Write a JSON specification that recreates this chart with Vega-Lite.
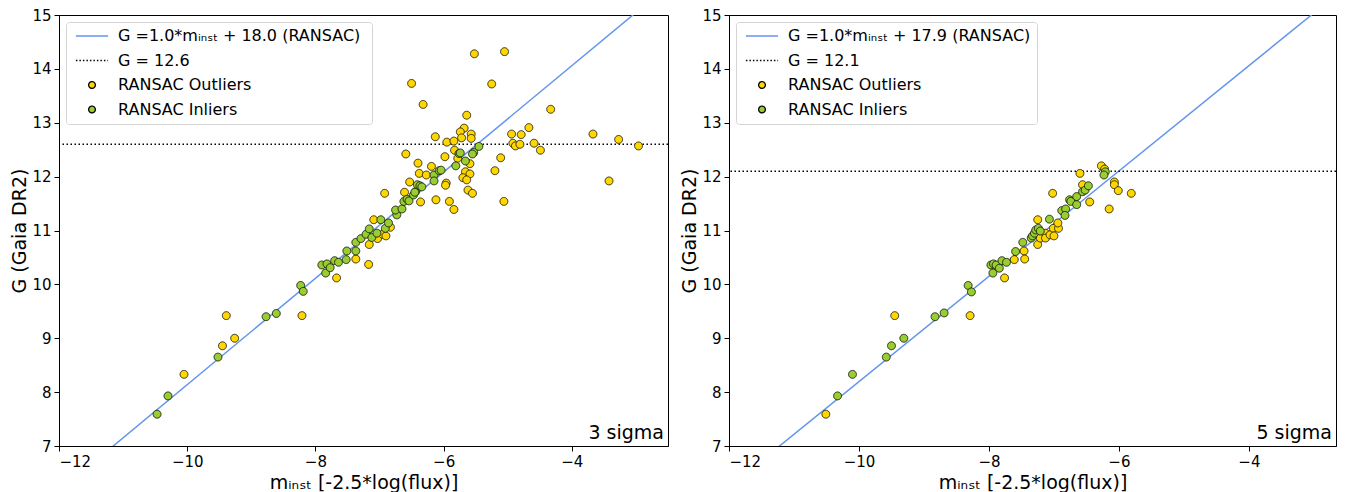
{
  "$schema": "https://vega.github.io/schema/vega-lite/v6.json",
  "padding": {"left": 10, "top": 7, "right": 5, "bottom": 0},
  "spacing": 10,
  "config": {
    "font": "DejaVu Sans",
    "view": {"stroke": "black", "strokeWidth": 1},
    "axis": {"grid": false, "domainColor": "black", "tickColor": "black", "labelColor": "black", "titleColor": "black", "labelFontSize": 15, "titleFontSize": 19, "titleFontWeight": "normal", "tickSize": 5, "labelPadding": 3, "titlePadding": 2, "labelFont": "DejaVu Sans", "titleFont": "DejaVu Sans"},
    "axisX": {"titlePadding": 4},
    "legend": {"title": null, "orient": "top-left", "offset": 7, "fillColor": "white", "strokeColor": "#d5d5d5", "cornerRadius": 3, "padding": 6, "labelFontSize": 16, "labelColor": "black", "labelFont": "DejaVu Sans", "labelLimit": 500, "symbolSize": 45, "symbolStrokeWidth": 1.3, "rowPadding": 8.5, "symbolOffset": 12, "labelOffset": 18}
  },
  "datasets": {
    "leftfit": [{"x": -12, "y": 6.165}, {"x": -2.5, "y": 15.54}],
    "rightfit": [{"x": -12, "y": 6.24}, {"x": -2.66, "y": 15.37}],
    "left": [
      {"x": -10.05, "y": 8.33, "cls": "RANSAC Outliers"},
      {"x": -9.45, "y": 8.86, "cls": "RANSAC Outliers"},
      {"x": -9.26, "y": 9.00, "cls": "RANSAC Outliers"},
      {"x": -9.39, "y": 9.42, "cls": "RANSAC Outliers"},
      {"x": -8.21, "y": 9.42, "cls": "RANSAC Outliers"},
      {"x": -7.67, "y": 10.12, "cls": "RANSAC Outliers"},
      {"x": -7.37, "y": 10.47, "cls": "RANSAC Outliers"},
      {"x": -7.17, "y": 10.37, "cls": "RANSAC Outliers"},
      {"x": -7.16, "y": 10.74, "cls": "RANSAC Outliers"},
      {"x": -7.09, "y": 11.20, "cls": "RANSAC Outliers"},
      {"x": -7.03, "y": 10.85, "cls": "RANSAC Outliers"},
      {"x": -6.95, "y": 10.93, "cls": "RANSAC Outliers"},
      {"x": -6.90, "y": 10.90, "cls": "RANSAC Outliers"},
      {"x": -6.83, "y": 11.06, "cls": "RANSAC Outliers"},
      {"x": -6.92, "y": 11.69, "cls": "RANSAC Outliers"},
      {"x": -6.61, "y": 11.71, "cls": "RANSAC Outliers"},
      {"x": -6.36, "y": 11.53, "cls": "RANSAC Outliers"},
      {"x": -6.53, "y": 11.90, "cls": "RANSAC Outliers"},
      {"x": -6.59, "y": 12.42, "cls": "RANSAC Outliers"},
      {"x": -6.40, "y": 12.25, "cls": "RANSAC Outliers"},
      {"x": -6.19, "y": 12.19, "cls": "RANSAC Outliers"},
      {"x": -6.38, "y": 12.06, "cls": "RANSAC Outliers"},
      {"x": -6.27, "y": 12.03, "cls": "RANSAC Outliers"},
      {"x": -6.12, "y": 11.57, "cls": "RANSAC Outliers"},
      {"x": -5.91, "y": 11.54, "cls": "RANSAC Outliers"},
      {"x": -5.84, "y": 11.39, "cls": "RANSAC Outliers"},
      {"x": -5.96, "y": 11.88, "cls": "RANSAC Outliers"},
      {"x": -5.97, "y": 11.84, "cls": "RANSAC Outliers"},
      {"x": -6.13, "y": 12.74, "cls": "RANSAC Outliers"},
      {"x": -5.52, "y": 14.28, "cls": "RANSAC Outliers"},
      {"x": -5.05, "y": 14.32, "cls": "RANSAC Outliers"},
      {"x": -6.50, "y": 13.73, "cls": "RANSAC Outliers"},
      {"x": -5.25, "y": 13.72, "cls": "RANSAC Outliers"},
      {"x": -6.32, "y": 13.34, "cls": "RANSAC Outliers"},
      {"x": -4.33, "y": 13.25, "cls": "RANSAC Outliers"},
      {"x": -5.64, "y": 13.14, "cls": "RANSAC Outliers"},
      {"x": -5.68, "y": 12.90, "cls": "RANSAC Outliers"},
      {"x": -5.74, "y": 12.83, "cls": "RANSAC Outliers"},
      {"x": -5.57, "y": 12.79, "cls": "RANSAC Outliers"},
      {"x": -5.57, "y": 12.71, "cls": "RANSAC Outliers"},
      {"x": -5.72, "y": 12.72, "cls": "RANSAC Outliers"},
      {"x": -5.95, "y": 12.64, "cls": "RANSAC Outliers"},
      {"x": -5.84, "y": 12.66, "cls": "RANSAC Outliers"},
      {"x": -4.94, "y": 12.79, "cls": "RANSAC Outliers"},
      {"x": -4.79, "y": 12.78, "cls": "RANSAC Outliers"},
      {"x": -4.67, "y": 12.91, "cls": "RANSAC Outliers"},
      {"x": -4.92, "y": 12.62, "cls": "RANSAC Outliers"},
      {"x": -4.88, "y": 12.57, "cls": "RANSAC Outliers"},
      {"x": -4.81, "y": 12.60, "cls": "RANSAC Outliers"},
      {"x": -4.59, "y": 12.62, "cls": "RANSAC Outliers"},
      {"x": -4.49, "y": 12.49, "cls": "RANSAC Outliers"},
      {"x": -5.83, "y": 12.49, "cls": "RANSAC Outliers"},
      {"x": -5.98, "y": 12.37, "cls": "RANSAC Outliers"},
      {"x": -5.78, "y": 12.34, "cls": "RANSAC Outliers"},
      {"x": -5.59, "y": 12.24, "cls": "RANSAC Outliers"},
      {"x": -5.11, "y": 12.35, "cls": "RANSAC Outliers"},
      {"x": -5.20, "y": 12.11, "cls": "RANSAC Outliers"},
      {"x": -5.66, "y": 12.09, "cls": "RANSAC Outliers"},
      {"x": -5.59, "y": 12.05, "cls": "RANSAC Outliers"},
      {"x": -5.70, "y": 11.98, "cls": "RANSAC Outliers"},
      {"x": -5.64, "y": 11.94, "cls": "RANSAC Outliers"},
      {"x": -5.62, "y": 11.75, "cls": "RANSAC Outliers"},
      {"x": -5.55, "y": 11.69, "cls": "RANSAC Outliers"},
      {"x": -5.06, "y": 11.54, "cls": "RANSAC Outliers"},
      {"x": -3.67, "y": 12.79, "cls": "RANSAC Outliers"},
      {"x": -3.27, "y": 12.69, "cls": "RANSAC Outliers"},
      {"x": -2.96, "y": 12.57, "cls": "RANSAC Outliers"},
      {"x": -3.42, "y": 11.92, "cls": "RANSAC Outliers"},
      {"x": -10.47, "y": 7.59, "cls": "RANSAC Inliers"},
      {"x": -10.30, "y": 7.93, "cls": "RANSAC Inliers"},
      {"x": -9.52, "y": 8.65, "cls": "RANSAC Inliers"},
      {"x": -8.77, "y": 9.40, "cls": "RANSAC Inliers"},
      {"x": -8.61, "y": 9.46, "cls": "RANSAC Inliers"},
      {"x": -8.23, "y": 9.98, "cls": "RANSAC Inliers"},
      {"x": -8.19, "y": 9.87, "cls": "RANSAC Inliers"},
      {"x": -7.90, "y": 10.36, "cls": "RANSAC Inliers"},
      {"x": -7.84, "y": 10.21, "cls": "RANSAC Inliers"},
      {"x": -7.82, "y": 10.38, "cls": "RANSAC Inliers"},
      {"x": -7.77, "y": 10.31, "cls": "RANSAC Inliers"},
      {"x": -7.70, "y": 10.44, "cls": "RANSAC Inliers"},
      {"x": -7.64, "y": 10.41, "cls": "RANSAC Inliers"},
      {"x": -7.52, "y": 10.46, "cls": "RANSAC Inliers"},
      {"x": -7.51, "y": 10.62, "cls": "RANSAC Inliers"},
      {"x": -7.37, "y": 10.62, "cls": "RANSAC Inliers"},
      {"x": -7.37, "y": 10.78, "cls": "RANSAC Inliers"},
      {"x": -7.29, "y": 10.85, "cls": "RANSAC Inliers"},
      {"x": -7.21, "y": 10.93, "cls": "RANSAC Inliers"},
      {"x": -7.16, "y": 11.03, "cls": "RANSAC Inliers"},
      {"x": -7.12, "y": 10.87, "cls": "RANSAC Inliers"},
      {"x": -7.04, "y": 10.95, "cls": "RANSAC Inliers"},
      {"x": -6.98, "y": 11.20, "cls": "RANSAC Inliers"},
      {"x": -6.91, "y": 11.04, "cls": "RANSAC Inliers"},
      {"x": -6.86, "y": 11.14, "cls": "RANSAC Inliers"},
      {"x": -6.73, "y": 11.29, "cls": "RANSAC Inliers"},
      {"x": -6.75, "y": 11.38, "cls": "RANSAC Inliers"},
      {"x": -6.65, "y": 11.40, "cls": "RANSAC Inliers"},
      {"x": -6.62, "y": 11.54, "cls": "RANSAC Inliers"},
      {"x": -6.57, "y": 11.58, "cls": "RANSAC Inliers"},
      {"x": -6.54, "y": 11.55, "cls": "RANSAC Inliers"},
      {"x": -6.47, "y": 11.66, "cls": "RANSAC Inliers"},
      {"x": -6.44, "y": 11.72, "cls": "RANSAC Inliers"},
      {"x": -6.45, "y": 11.71, "cls": "RANSAC Inliers"},
      {"x": -6.41, "y": 11.85, "cls": "RANSAC Inliers"},
      {"x": -6.37, "y": 11.83, "cls": "RANSAC Inliers"},
      {"x": -6.34, "y": 11.81, "cls": "RANSAC Inliers"},
      {"x": -6.15, "y": 12.03, "cls": "RANSAC Inliers"},
      {"x": -6.15, "y": 11.92, "cls": "RANSAC Inliers"},
      {"x": -6.07, "y": 12.11, "cls": "RANSAC Inliers"},
      {"x": -6.04, "y": 12.12, "cls": "RANSAC Inliers"},
      {"x": -5.81, "y": 12.20, "cls": "RANSAC Inliers"},
      {"x": -5.76, "y": 12.43, "cls": "RANSAC Inliers"},
      {"x": -5.74, "y": 12.44, "cls": "RANSAC Inliers"},
      {"x": -5.66, "y": 12.29, "cls": "RANSAC Inliers"},
      {"x": -5.53, "y": 12.45, "cls": "RANSAC Inliers"},
      {"x": -5.55, "y": 12.42, "cls": "RANSAC Inliers"},
      {"x": -5.45, "y": 12.56, "cls": "RANSAC Inliers"}
    ],
    "right": [
      {"x": -10.51, "y": 7.59, "cls": "RANSAC Outliers"},
      {"x": -9.45, "y": 9.42, "cls": "RANSAC Outliers"},
      {"x": -8.29, "y": 9.42, "cls": "RANSAC Outliers"},
      {"x": -7.76, "y": 10.12, "cls": "RANSAC Outliers"},
      {"x": -7.61, "y": 10.46, "cls": "RANSAC Outliers"},
      {"x": -7.46, "y": 10.62, "cls": "RANSAC Outliers"},
      {"x": -7.45, "y": 10.47, "cls": "RANSAC Outliers"},
      {"x": -7.25, "y": 10.74, "cls": "RANSAC Outliers"},
      {"x": -7.25, "y": 11.20, "cls": "RANSAC Outliers"},
      {"x": -7.21, "y": 10.86, "cls": "RANSAC Outliers"},
      {"x": -7.13, "y": 10.95, "cls": "RANSAC Outliers"},
      {"x": -7.13, "y": 10.86, "cls": "RANSAC Outliers"},
      {"x": -7.06, "y": 10.92, "cls": "RANSAC Outliers"},
      {"x": -7.01, "y": 11.04, "cls": "RANSAC Outliers"},
      {"x": -7.00, "y": 10.90, "cls": "RANSAC Outliers"},
      {"x": -6.93, "y": 11.04, "cls": "RANSAC Outliers"},
      {"x": -6.94, "y": 11.14, "cls": "RANSAC Outliers"},
      {"x": -7.02, "y": 11.69, "cls": "RANSAC Outliers"},
      {"x": -6.56, "y": 11.85, "cls": "RANSAC Outliers"},
      {"x": -6.45, "y": 11.53, "cls": "RANSAC Outliers"},
      {"x": -6.60, "y": 12.06, "cls": "RANSAC Outliers"},
      {"x": -6.27, "y": 12.20, "cls": "RANSAC Outliers"},
      {"x": -6.22, "y": 12.14, "cls": "RANSAC Outliers"},
      {"x": -6.07, "y": 11.90, "cls": "RANSAC Outliers"},
      {"x": -6.07, "y": 11.85, "cls": "RANSAC Outliers"},
      {"x": -6.01, "y": 11.74, "cls": "RANSAC Outliers"},
      {"x": -5.81, "y": 11.69, "cls": "RANSAC Outliers"},
      {"x": -6.15, "y": 11.40, "cls": "RANSAC Outliers"},
      {"x": -10.33, "y": 7.93, "cls": "RANSAC Inliers"},
      {"x": -10.10, "y": 8.33, "cls": "RANSAC Inliers"},
      {"x": -9.58, "y": 8.65, "cls": "RANSAC Inliers"},
      {"x": -9.50, "y": 8.86, "cls": "RANSAC Inliers"},
      {"x": -9.31, "y": 9.00, "cls": "RANSAC Inliers"},
      {"x": -8.83, "y": 9.40, "cls": "RANSAC Inliers"},
      {"x": -8.69, "y": 9.47, "cls": "RANSAC Inliers"},
      {"x": -8.32, "y": 9.98, "cls": "RANSAC Inliers"},
      {"x": -8.27, "y": 9.86, "cls": "RANSAC Inliers"},
      {"x": -7.97, "y": 10.36, "cls": "RANSAC Inliers"},
      {"x": -7.93, "y": 10.38, "cls": "RANSAC Inliers"},
      {"x": -7.89, "y": 10.36, "cls": "RANSAC Inliers"},
      {"x": -7.94, "y": 10.21, "cls": "RANSAC Inliers"},
      {"x": -7.84, "y": 10.30, "cls": "RANSAC Inliers"},
      {"x": -7.80, "y": 10.44, "cls": "RANSAC Inliers"},
      {"x": -7.73, "y": 10.41, "cls": "RANSAC Inliers"},
      {"x": -7.59, "y": 10.61, "cls": "RANSAC Inliers"},
      {"x": -7.48, "y": 10.78, "cls": "RANSAC Inliers"},
      {"x": -7.35, "y": 10.86, "cls": "RANSAC Inliers"},
      {"x": -7.33, "y": 10.90, "cls": "RANSAC Inliers"},
      {"x": -7.30, "y": 10.95, "cls": "RANSAC Inliers"},
      {"x": -7.28, "y": 11.01, "cls": "RANSAC Inliers"},
      {"x": -7.24, "y": 11.04, "cls": "RANSAC Inliers"},
      {"x": -7.21, "y": 10.99, "cls": "RANSAC Inliers"},
      {"x": -7.07, "y": 11.21, "cls": "RANSAC Inliers"},
      {"x": -6.88, "y": 11.37, "cls": "RANSAC Inliers"},
      {"x": -6.82, "y": 11.40, "cls": "RANSAC Inliers"},
      {"x": -6.83, "y": 11.28, "cls": "RANSAC Inliers"},
      {"x": -6.76, "y": 11.57, "cls": "RANSAC Inliers"},
      {"x": -6.74, "y": 11.54, "cls": "RANSAC Inliers"},
      {"x": -6.65, "y": 11.63, "cls": "RANSAC Inliers"},
      {"x": -6.65, "y": 11.48, "cls": "RANSAC Inliers"},
      {"x": -6.56, "y": 11.72, "cls": "RANSAC Inliers"},
      {"x": -6.52, "y": 11.75, "cls": "RANSAC Inliers"},
      {"x": -6.47, "y": 11.83, "cls": "RANSAC Inliers"},
      {"x": -6.21, "y": 12.09, "cls": "RANSAC Inliers"},
      {"x": -6.23, "y": 12.03, "cls": "RANSAC Inliers"}
    ]
  },
  "hconcat": [
    {
      "width": 609,
      "height": 431,
      "layer": [
        {
          "data": {"name": "leftfit"},
          "mark": {"type": "line", "color": "#6495ED", "strokeWidth": 1.5, "clip": true},
          "encoding": {
            "x": {"field": "x", "type": "quantitative", "scale": {"domain": [-12, -2.5], "nice": false, "zero": false}, "axis": {"values": [-12, -10, -8, -6, -4], "format": "d"}, "title": "mᵢₙₛₜ [-2.5*log(flux)]"},
            "y": {"field": "y", "type": "quantitative", "scale": {"domain": [7, 15], "nice": false, "zero": false}, "axis": {"values": [7, 8, 9, 10, 11, 12, 13, 14, 15], "format": "d"}, "title": "G (Gaia DR2)"}
          }
        },
        {
          "data": {"values": [{"g": 12.6}]},
          "mark": {"type": "rule", "color": "black", "strokeDash": [1.5, 2.5], "strokeWidth": 1.5},
          "encoding": {"y": {"field": "g", "type": "quantitative"}}
        },
        {
          "data": {"name": "left"},
          "mark": {"type": "point", "filled": true, "size": 62, "strokeWidth": 0.8, "opacity": 1},
          "encoding": {
            "x": {"field": "x", "type": "quantitative"},
            "y": {"field": "y", "type": "quantitative"},
            "fill": {"field": "cls", "type": "nominal", "scale": {"domain": ["G  =1.0*mᵢₙₛₜ + 18.0 (RANSAC)", "G  = 12.6", "RANSAC Outliers", "RANSAC Inliers"], "range": ["#6495ED", "black", "#FFD700", "#9ACD32"]}},
            "stroke": {"field": "cls", "type": "nominal", "scale": {"domain": ["G  =1.0*mᵢₙₛₜ + 18.0 (RANSAC)", "G  = 12.6", "RANSAC Outliers", "RANSAC Inliers"], "range": ["#6495ED", "black", "black", "black"]}},
            "shape": {"field": "cls", "type": "nominal", "scale": {"domain": ["G  =1.0*mᵢₙₛₜ + 18.0 (RANSAC)", "G  = 12.6", "RANSAC Outliers", "RANSAC Inliers"], "range": ["M-4.8,0H4.8", "M-4.8,0H4.8", "circle", "circle"]}},
            "strokeDash": {"field": "cls", "type": "nominal", "scale": {"domain": ["G  =1.0*mᵢₙₛₜ + 18.0 (RANSAC)", "G  = 12.6", "RANSAC Outliers", "RANSAC Inliers"], "range": [[1, 0], [1.5, 2], [1, 0], [1, 0]]}}
          }
        },
        {
          "data": {"values": [{"t": "3 sigma"}]},
          "mark": {"type": "text", "align": "right", "baseline": "bottom", "fontSize": 19, "dx": -4, "dy": -3, "color": "black"},
          "encoding": {"x": {"value": "width"}, "y": {"value": "height"}, "text": {"field": "t"}}
        }
      ]
    },
    {
      "width": 607,
      "height": 431,
      "layer": [
        {
          "data": {"name": "rightfit"},
          "mark": {"type": "line", "color": "#6495ED", "strokeWidth": 1.5, "clip": true},
          "encoding": {
            "x": {"field": "x", "type": "quantitative", "scale": {"domain": [-12, -2.66], "nice": false, "zero": false}, "axis": {"values": [-12, -10, -8, -6, -4], "format": "d"}, "title": "mᵢₙₛₜ [-2.5*log(flux)]"},
            "y": {"field": "y", "type": "quantitative", "scale": {"domain": [7, 15], "nice": false, "zero": false}, "axis": {"values": [7, 8, 9, 10, 11, 12, 13, 14, 15], "format": "d"}, "title": "G (Gaia DR2)"}
          }
        },
        {
          "data": {"values": [{"g": 12.1}]},
          "mark": {"type": "rule", "color": "black", "strokeDash": [1.5, 2.5], "strokeWidth": 1.5},
          "encoding": {"y": {"field": "g", "type": "quantitative"}}
        },
        {
          "data": {"name": "right"},
          "mark": {"type": "point", "filled": true, "size": 62, "strokeWidth": 0.8, "opacity": 1},
          "encoding": {
            "x": {"field": "x", "type": "quantitative"},
            "y": {"field": "y", "type": "quantitative"},
            "fill": {"field": "cls", "type": "nominal", "scale": {"domain": ["G =1.0*mᵢₙₛₜ + 17.9 (RANSAC)", "G = 12.1", "RANSAC Outliers", "RANSAC Inliers"], "range": ["#6495ED", "black", "#FFD700", "#9ACD32"]}},
            "stroke": {"field": "cls", "type": "nominal", "scale": {"domain": ["G =1.0*mᵢₙₛₜ + 17.9 (RANSAC)", "G = 12.1", "RANSAC Outliers", "RANSAC Inliers"], "range": ["#6495ED", "black", "black", "black"]}},
            "shape": {"field": "cls", "type": "nominal", "scale": {"domain": ["G =1.0*mᵢₙₛₜ + 17.9 (RANSAC)", "G = 12.1", "RANSAC Outliers", "RANSAC Inliers"], "range": ["M-4.8,0H4.8", "M-4.8,0H4.8", "circle", "circle"]}},
            "strokeDash": {"field": "cls", "type": "nominal", "scale": {"domain": ["G =1.0*mᵢₙₛₜ + 17.9 (RANSAC)", "G = 12.1", "RANSAC Outliers", "RANSAC Inliers"], "range": [[1, 0], [1.5, 2], [1, 0], [1, 0]]}}
          }
        },
        {
          "data": {"values": [{"t": "5 sigma"}]},
          "mark": {"type": "text", "align": "right", "baseline": "bottom", "fontSize": 19, "dx": -4, "dy": -3, "color": "black"},
          "encoding": {"x": {"value": "width"}, "y": {"value": "height"}, "text": {"field": "t"}}
        }
      ]
    }
  ],
  "resolve": {
    "scale": {"fill": "independent", "stroke": "independent", "shape": "independent", "strokeDash": "independent", "x": "independent", "y": "independent"},
    "legend": {"fill": "independent", "stroke": "independent", "shape": "independent", "strokeDash": "independent"}
  }
}
